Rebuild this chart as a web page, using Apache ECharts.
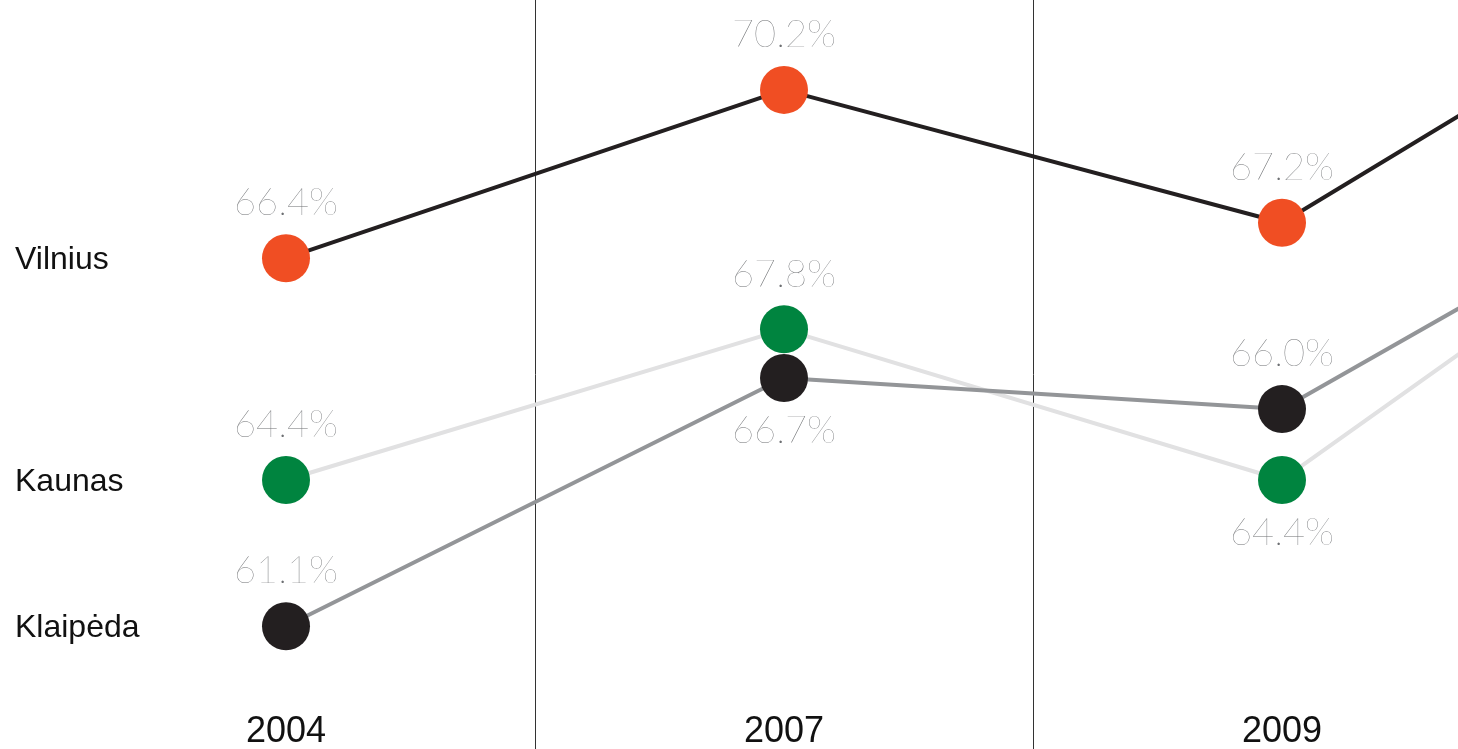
<!DOCTYPE html>
<html>
<head>
<meta charset="utf-8">
<script src="https://cdn.jsdelivr.net/npm/echarts@6/dist/echarts.min.js"></script>
<style>
  html, body { margin: 0; padding: 0; background: #ffffff; }
  #chart { width: 1458px; height: 749px; }
</style>
</head>
<body>
<div id="chart"></div>
<script>
// Survey years (columns) and the three cities
const years = ['2004', '2007', '2009', '2011'];
const cities = ['Vilnius', 'Kaunas', 'Klaipėda'];

// Values, percent
const vilnius = [66.4, 70.2, 67.2, 74.0];
const kaunas = [64.4, 67.8, 64.4, 72.4];
const klaipeda = [61.1, 66.7, 66.0, 72.4];

// Where each value label sits relative to its dot
const vilniusLabelSide = ['top', 'top', 'top', 'top'];
const kaunasLabelSide = ['top', 'top', 'bottom', 'top'];
const klaipedaLabelSide = ['top', 'bottom', 'top', 'top'];

const TEXT_FONT = '"Liberation Sans", Arial, Helvetica, sans-serif';
const VALUE_FONT = 'Lato, "Open Sans", sans-serif';

const chart = echarts.init(document.getElementById('chart'), null, { renderer: 'canvas' });

function buildData(values, sides) {
  return values.map((v, i) => ({
    value: v,
    label: { position: sides[i], distance: sides[i] === 'top' ? 12 : 10 }
  }));
}

function makeSeries(name, values, sides, lineColor, dotColor, yAxisIndex) {
  return {
    name: name,
    type: 'line',
    yAxisIndex: yAxisIndex,
    data: buildData(values, sides),
    clip: false,
    symbol: 'circle',
    symbolSize: 48,
    showAllSymbol: true,
    lineStyle: { color: lineColor, width: 4 },
    itemStyle: { color: dotColor, borderWidth: 0 },
    label: {
      show: true,
      formatter: (p) => p.value.toFixed(1) + '%',
      fontFamily: VALUE_FONT,
      fontWeight: 100,
      fontSize: 38,
      color: '#6d6f72'
    },
    emphasis: { disabled: true },
    animation: false
  };
}

// The plot runs on past the right edge: four columns of 498px from x = 37
const option = {
  animation: false,
  backgroundColor: '#ffffff',
  grid: {
    left: 37, top: 0, width: 1992, height: 749,
    containLabel: false,
    outerBoundsMode: 'none'
  },
  xAxis: {
    type: 'category',
    data: years,
    boundaryGap: true,
    axisLine: { show: false },
    axisTick: { show: false },
    axisLabel: {
      inside: true,
      margin: -1,
      fontFamily: TEXT_FONT,
      fontSize: 36,
      color: '#111111'
    },
    splitLine: {
      show: true,
      showMinLine: false,
      showMaxLine: false,
      lineStyle: { color: '#333333', width: 1 }
    }
  },
  yAxis: [
    { type: 'value', min: 55.32, max: 72.23, show: false, splitLine: { show: false } },
    { type: 'value', min: 58.33, max: 75.23, show: false, splitLine: { show: false } }
  ],
  series: [
    makeSeries(cities[0], vilnius, vilniusLabelSide, '#231f20', '#f04e23', 0),
    makeSeries(cities[1], kaunas, kaunasLabelSide, '#e1e1e2', '#00843f', 1),
    makeSeries(cities[2], klaipeda, klaipedaLabelSide, '#939598', '#231f20', 1)
  ]
};

chart.setOption(option);

// City names at the left, level with each city's first point
const firstValues = [vilnius[0], kaunas[0], klaipeda[0]];
const axisOf = [0, 1, 1];
chart.setOption({
  graphic: cities.map((name, i) => ({
    type: 'text',
    left: 15,
    top: chart.convertToPixel({ yAxisIndex: axisOf[i] }, firstValues[i]) - 14,
    style: {
      text: name,
      font: '32px ' + TEXT_FONT,
      fill: '#111111'
    },
    silent: true
  }))
});
</script>
</body>
</html>
